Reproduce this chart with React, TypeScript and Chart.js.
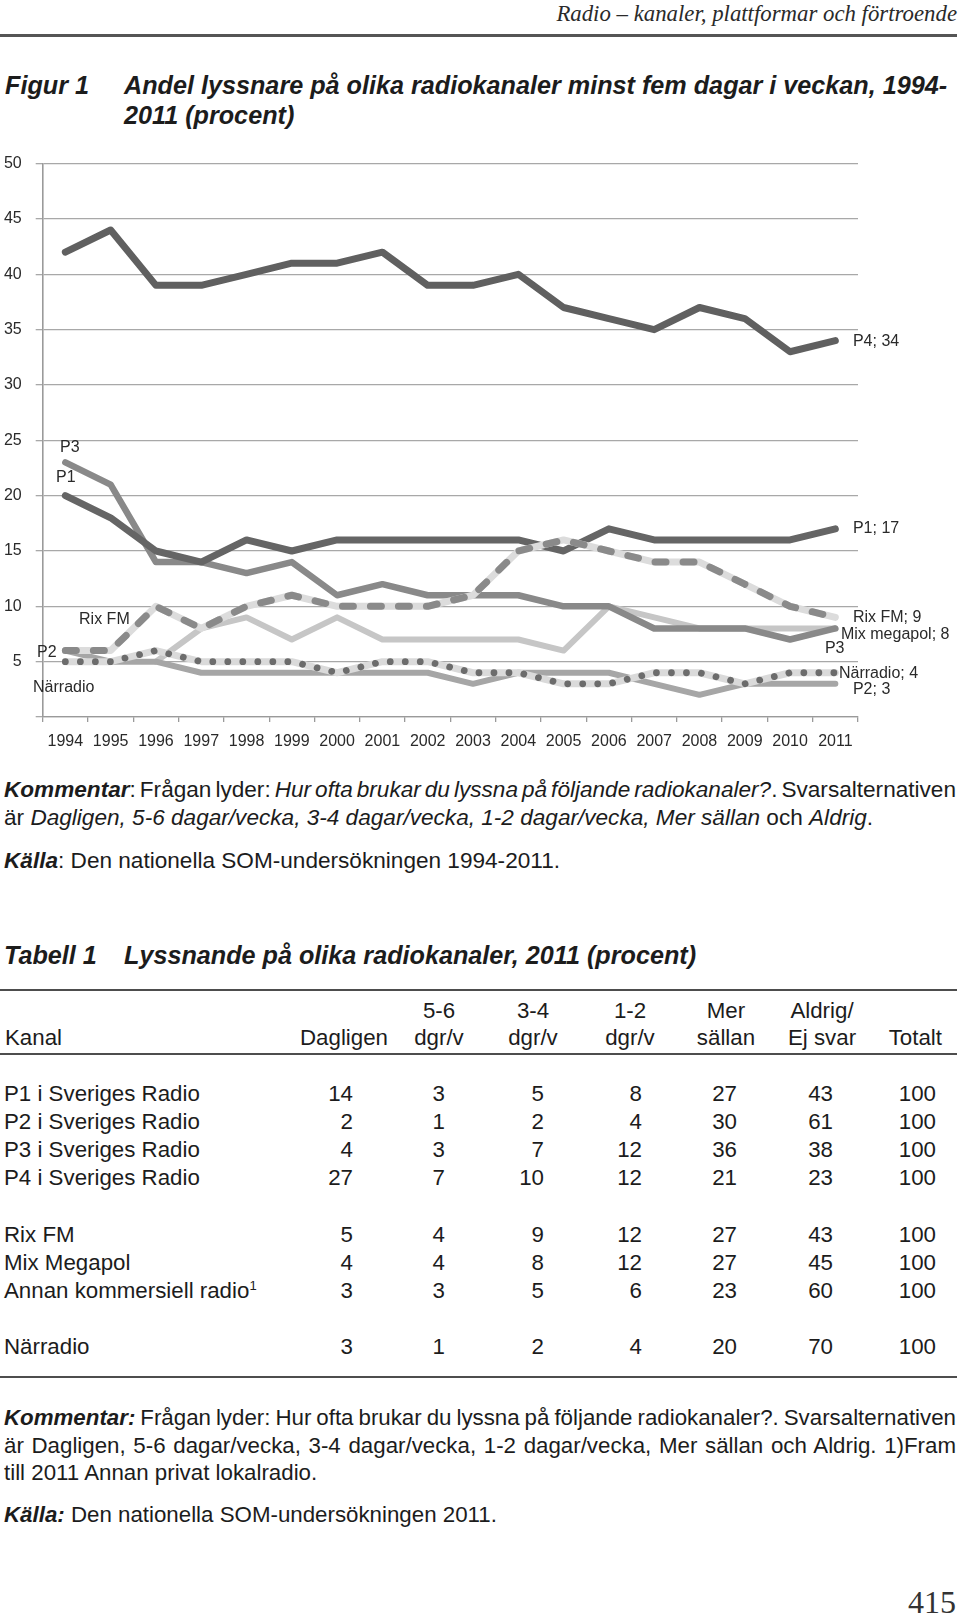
import React, { useEffect, useLayoutEffect, useRef } from 'react';
import { Chart, registerables } from 'chart.js';

Chart.register(...registerables);

// ---------------- chart data ----------------
const years = ['1994', '1995', '1996', '1997', '1998', '1999', '2000', '2001', '2002', '2003', '2004', '2005', '2006', '2007', '2008', '2009', '2010', '2011'];
const p4 = [42, 44, 39, 39, 40, 41, 41, 42, 39, 39, 40, 37, 36, 35, 37, 36, 33, 34];
const p1 = [20, 18, 15, 14, 16, 15, 16, 16, 16, 16, 16, 15, 17, 16, 16, 16, 16, 17];
const p3 = [23, 21, 14, 14, 13, 14, 11, 12, 11, 11, 11, 10, 10, 8, 8, 8, 7, 8];
const p2 = [6, 5, 5, 4, 4, 4, 4, 4, 4, 3, 4, 4, 4, 3, 2, 3, 3, 3];
const rixFm = [6, 6, 10, 8, 10, 11, 10, 10, 10, 11, 15, 16, 15, 14, 14, 12, 10, 9];
const mixMegapol = [null, null, 5, 8, 9, 7, 9, 7, 7, 7, 7, 6, 10, 9, 8, 8, 8, 8];
const narradio = [5, 5, 6, 5, 5, 5, 4, 5, 5, 4, 4, 3, 3, 4, 4, 3, 4, 4];
const yTicks = [0, 5, 10, 15, 20, 25, 30, 35, 40, 45, 50];

// labels next to the lines (text + the value level they sit at)
const startLabelText = ['P3', 'P1', 'Rix FM', 'P2', 'Närradio'];
const startLabelLevel = [24.3, 21.6, 8.8, 5.8, 2.7];
const endLabelText = ['P4; 34', 'P1; 17', 'Rix FM; 9', 'Mix megapol; 8', 'P3', 'Närradio; 4', 'P2; 3'];
const endLabelLevel = [33.9, 17, 9, 7.45, 6.2, 3.95, 2.5];

// ---------------- table data ----------------
const tableHeadTop = ['', '', '5-6', '3-4', '1-2', 'Mer', 'Aldrig/', ''];
const tableHeadBottom = ['Kanal', 'Dagligen', 'dgr/v', 'dgr/v', 'dgr/v', 'sällan', 'Ej svar', 'Totalt'];
const channels = ['P1 i Sveriges Radio', 'P2 i Sveriges Radio', 'P3 i Sveriges Radio', 'P4 i Sveriges Radio', 'Rix FM', 'Mix Megapol', 'Annan kommersiell radio', 'Närradio'];
const dagligen = [14, 2, 4, 27, 5, 4, 3, 3];
const dagar56 = [3, 1, 3, 7, 4, 4, 3, 1];
const dagar34 = [5, 2, 7, 10, 9, 8, 5, 2];
const dagar12 = [8, 4, 12, 12, 12, 12, 6, 4];
const merSallan = [27, 30, 36, 21, 27, 27, 23, 20];
const aldrig = [43, 61, 38, 23, 43, 45, 60, 70];
const totalt = [100, 100, 100, 100, 100, 100, 100, 100];

// ---------------- layout / style ----------------
const W = 960;
const H = 1618;
const SANS = '"Liberation Sans", Arial, Helvetica, sans-serif';
const SERIF = '"Liberation Serif", "Times New Roman", serif';
const TEXT = '#1c1c1c';
const CHART_TEXT = '#2a2a2a';

const START_DX = [-5.3, -9.3, 13.7, -28.3, -32.3];
const END_DX = [17.6, 17.6, 17.6, 5.6, -10.4, 3.6, 17.6];

const rowCenters = [1093, 1121, 1149, 1177, 1234, 1262, 1290, 1346];
const numRight = [353, 445, 544, 642, 737, 833, 936];
const headX = [5, 388, 439, 533, 630, 726, 822, 942];
const headAlign: Array<'left' | 'right' | 'center'> = ['left', 'right', 'center', 'center', 'center', 'center', 'center', 'right'];

type TProps = {
  x: number;
  cy: number;
  size: number;
  align?: 'left' | 'right' | 'center';
  fit?: number;
  font?: string;
  weight?: number;
  italic?: boolean;
  color?: string;
  children: React.ReactNode;
};

function T({ x, cy, size, align = 'left', fit, font = SANS, weight = 400, italic = false, color = TEXT, children }: TProps) {
  const ref = useRef<HTMLSpanElement>(null);
  useLayoutEffect(() => {
    if (!fit || !ref.current) return;
    const el = ref.current;
    el.style.wordSpacing = '0px';
    const w = el.getBoundingClientRect().width;
    const n = (el.textContent || '').split(' ').length - 1;
    if (n > 0) el.style.wordSpacing = `${(fit - w) / n}px`;
  }, [fit]);
  const lh = Math.round(size * 1.3);
  const style: React.CSSProperties = {
    position: 'absolute',
    top: cy - lh / 2,
    height: lh,
    lineHeight: `${lh}px`,
    fontSize: size,
    fontFamily: font,
    fontWeight: weight,
    fontStyle: italic ? 'italic' : 'normal',
    whiteSpace: 'nowrap',
    color,
  };
  if (align === 'left') style.left = x;
  else if (align === 'right') style.right = W - x;
  else {
    style.left = x - 200;
    style.width = 400;
    style.textAlign = 'center';
  }
  return (
    <div style={style}>
      <span ref={ref}>{children}</span>
    </div>
  );
}

function Rule({ y, h = 2, color = '#4d4d4d' }: { y: number; h?: number; color?: string }) {
  return <div style={{ position: 'absolute', left: 0, top: y, width: 957, height: h, background: color }} />;
}

const BI = ({ children }: { children: React.ReactNode }) => (
  <b style={{ fontStyle: 'italic', fontWeight: 700 }}>{children}</b>
);

function LineChart() {
  const canvasRef = useRef<HTMLCanvasElement>(null);
  useEffect(() => {
    const canvas = canvasRef.current;
    if (!canvas) return;
    const last = years.length - 1;
    const labelPlugin = {
      id: 'lineLabels',
      afterDatasetsDraw(chart: any) {
        const { ctx, scales } = chart;
        const x = scales.x;
        const y = scales.y;
        ctx.save();
        ctx.font = `16px ${SANS}`;
        ctx.fillStyle = CHART_TEXT;
        ctx.textAlign = 'left';
        ctx.textBaseline = 'middle';
        startLabelText.forEach((t, i) => {
          ctx.fillText(t, x.getPixelForValue(0) + START_DX[i], y.getPixelForValue(startLabelLevel[i]));
        });
        endLabelText.forEach((t, i) => {
          ctx.fillText(t, x.getPixelForValue(last) + END_DX[i], y.getPixelForValue(endLabelLevel[i]));
        });
        ctx.restore();
      },
    };

    const line = (label: string, data: (number | null)[], color: string, width: number, extra: any = {}) => ({
      label,
      data,
      borderColor: color,
      backgroundColor: color,
      borderWidth: width,
      borderCapStyle: 'round',
      borderJoinStyle: 'round',
      pointRadius: 0,
      pointHoverRadius: 0,
      tension: 0,
      fill: false,
      spanGaps: false,
      ...extra,
    });

    // first dataset is drawn on top
    const datasets = [
      line('Närradio', narradio, '#6c6c6c', 6.8, { borderDash: [0.01, 15] }),
      line('Närradio band', narradio, '#dadada', 7),
      line('Rix FM', rixFm, '#8a8a8a', 7, { borderDash: [11, 17] }),
      line('Rix FM band', rixFm, '#dcdcdc', 7),
      line('P1', p1, '#656565', 7),
      line('P4', p4, '#606060', 7),
      line('P3', p3, '#898989', 6.5),
      line('P2', p2, '#a6a6a6', 6),
      line('Mix megapol', mixMegapol, '#c6c6c6', 6),
    ];

    const chart = new Chart(canvas, {
      type: 'line',
      data: { labels: years, datasets: datasets as any },
      options: {
        animation: false,
        responsive: false,
        events: [],
        layout: { padding: { left: 0, right: 102, top: 21, bottom: 0 } },
        plugins: { legend: { display: false }, tooltip: { enabled: false }, title: { display: false } },
        scales: {
          x: {
            type: 'category',
            offset: true,
            grid: { offset: true, drawOnChartArea: false, drawTicks: true, tickLength: 5, color: '#9a9a9a', lineWidth: 1.3 },
            border: { display: true, color: '#9a9a9a', width: 1.3 },
            ticks: { autoSkip: false, maxRotation: 0, minRotation: 0, padding: 10, color: CHART_TEXT, font: { family: SANS, size: 16 } },
            afterFit: (s: any) => {
              s.height = 43;
            },
          },
          y: {
            min: 0,
            max: 50,
            afterBuildTicks: (s: any) => {
              s.ticks = yTicks.map((v) => ({ value: v }));
            },
            ticks: {
              padding: 14,
              color: CHART_TEXT,
              font: { family: SANS, size: 16 },
              callback: (v: any) => (Number(v) === 0 ? '' : String(v)),
            },
            grid: { color: '#a8a8a8', lineWidth: 1.3, tickLength: 7, drawTicks: true },
            border: { display: true, color: '#9a9a9a', width: 1.6 },
            afterFit: (s: any) => {
              s.width = 42.7;
            },
          },
        },
      },
      plugins: [labelPlugin],
    });
    return () => chart.destroy();
  }, []);
  return (
    <canvas
      ref={canvasRef}
      width={960}
      height={620}
      style={{ position: 'absolute', left: 0, top: 140, width: 960, height: 620 }}
    />
  );
}

export default function App() {
  const numCols = [dagligen, dagar56, dagar34, dagar12, merSallan, aldrig, totalt];
  return (
    <div style={{ position: 'absolute', left: 0, top: 0, width: W, height: H, background: '#fff', overflow: 'hidden', color: TEXT }}>
      {/* running header */}
      <T x={957} cy={14} size={22.8} align="right" font={SERIF} italic color="#2a2a2a">
        Radio – kanaler, plattformar och förtroende
      </T>
      <Rule y={34} h={3} color="#555" />

      {/* figure title */}
      <T x={5} cy={85} size={25.2} weight={700} italic>Figur 1</T>
      <T x={124} cy={85} size={25.2} weight={700} italic>Andel lyssnare på olika radiokanaler minst fem dagar i veckan, 1994-</T>
      <T x={124} cy={115} size={25.2} weight={700} italic>2011 (procent)</T>

      <LineChart />

      {/* comment under figure */}
      <T x={4} cy={789} size={22.6} fit={952}>
        <BI>Kommentar</BI>: Frågan lyder: <i>Hur ofta brukar du lyssna på följande radiokanaler?</i>. Svarsalternativen
      </T>
      <T x={4} cy={817} size={22.6}>
        är <i>Dagligen, 5-6 dagar/vecka, 3-4 dagar/vecka, 1-2 dagar/vecka, Mer sällan</i> och <i>Aldrig</i>.
      </T>
      <T x={4} cy={860} size={22.6}>
        <BI>Källa</BI>: Den nationella SOM-undersökningen 1994-2011.
      </T>

      {/* table title */}
      <T x={4} cy={955} size={25.2} weight={700} italic>Tabell 1</T>
      <T x={124} cy={955} size={25.2} weight={700} italic>Lyssnande på olika radiokanaler, 2011 (procent)</T>

      <Rule y={989} h={2} />
      {tableHeadTop.map((t, i) =>
        t ? (
          <T key={`ht${i}`} x={headX[i]} cy={1010} size={22.3} align={headAlign[i]}>{t}</T>
        ) : null
      )}
      {tableHeadBottom.map((t, i) => (
        <T key={`hb${i}`} x={headX[i]} cy={1037} size={22.3} align={headAlign[i]}>{t}</T>
      ))}
      <Rule y={1053} h={2} />

      {channels.map((c, r) => (
        <React.Fragment key={`row${r}`}>
          <T x={4} cy={rowCenters[r]} size={22.3}>
            {c}
            {c.startsWith('Annan') ? (
              <span style={{ fontSize: 13, position: 'relative', top: -8, lineHeight: 0 }}>1</span>
            ) : null}
          </T>
          {numCols.map((col, k) => (
            <T key={`c${r}-${k}`} x={numRight[k]} cy={rowCenters[r]} size={22.3} align="right">{col[r]}</T>
          ))}
        </React.Fragment>
      ))}
      <Rule y={1376} h={2} />

      {/* comment under table */}
      <T x={4} cy={1417} size={22.3} fit={952}>
        <BI>Kommentar:</BI> Frågan lyder: Hur ofta brukar du lyssna på följande radiokanaler?. Svarsalternativen
      </T>
      <T x={4} cy={1445} size={22.3} fit={952}>
        är Dagligen, 5-6 dagar/vecka, 3-4 dagar/vecka, 1-2 dagar/vecka, Mer sällan och Aldrig. 1)Fram
      </T>
      <T x={4} cy={1472} size={22.3}>till 2011 Annan privat lokalradio.</T>
      <T x={4} cy={1514} size={22.3}>
        <BI>Källa:</BI> Den nationella SOM-undersökningen 2011.
      </T>

      {/* page number */}
      <T x={956} cy={1602} size={32} align="right" font={SERIF} color="#333">415</T>
    </div>
  );
}
